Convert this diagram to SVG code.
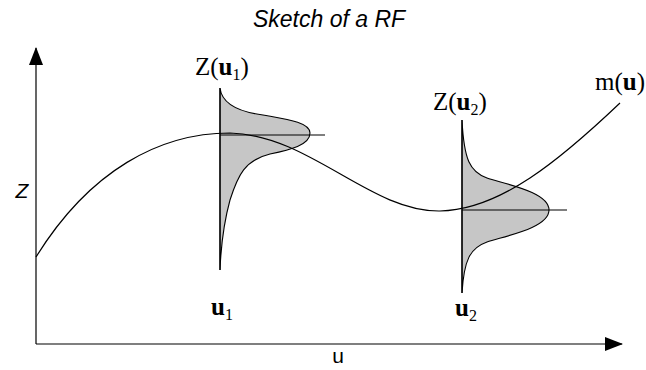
<svg xmlns="http://www.w3.org/2000/svg" width="646" height="370" viewBox="0 0 646 370">
<style>
.ln{fill:none;stroke:#000;stroke-width:1.2}
.pdf{fill:#c6c6c6;stroke:#000;stroke-width:1.1}
.serif{font-family:"Liberation Serif","Times New Roman",serif;font-size:25px;fill:#000}
.sans{font-family:"Liberation Sans",Arial,sans-serif;fill:#000}
.b{font-weight:bold}
.sub{font-size:16px}
</style>
<defs>
<marker id="ah" viewBox="0 0 18 14" refX="17" refY="7" markerWidth="18" markerHeight="14" markerUnits="userSpaceOnUse" orient="auto">
<path d="M0,0 L18,7 L0,14 Z" fill="#000"/>
</marker>
</defs>
<rect width="646" height="370" fill="#fff"/>
<text class="sans" x="329" y="27" font-size="23" font-style="italic" text-anchor="middle">Sketch of a RF</text>
<g id="axes">
<line class="ln" x1="36" y1="344" x2="36" y2="48" stroke-width="1.3" marker-end="url(#ah)"/>
<line class="ln" x1="36" y1="344" x2="622" y2="344" stroke-width="1.3" marker-end="url(#ah)"/>
<text class="sans" x="22" y="198" font-size="21" font-style="italic" text-anchor="middle">Z</text>
<text class="sans" x="338" y="363" font-size="21" text-anchor="middle">u</text>
</g>
<g id="dist1">
<path class="pdf" d="M220,88 C222,105 240,112 263,115 C285,119 310,122 310,133 C310,145 290,150 270,154 C245,160 238,175 230,200 C224,222 221,245 220,270 Z"/>
<line class="ln" x1="220" y1="88" x2="220" y2="270"/>
<line class="ln" x1="220" y1="135" x2="325" y2="135"/>
<text class="serif" x="195" y="75">Z(<tspan class="b">u</tspan><tspan class="sub" dy="5">1</tspan><tspan dy="-5">)</tspan></text>
<text class="serif" x="211" y="315"><tspan class="b">u</tspan><tspan class="sub" dy="5">1</tspan></text>
</g>
<g id="dist2">
<path class="pdf" d="M462,120 C464,160 470,172 487,178 C505,184 549,192 549,210 C549,228 505,236 487,242 C470,248 464,260 462,293 Z"/>
<line class="ln" x1="462" y1="120" x2="462" y2="293"/>
<line class="ln" x1="462" y1="210" x2="567" y2="210"/>
<text class="serif" x="433" y="110">Z(<tspan class="b">u</tspan><tspan class="sub" dy="5">2</tspan><tspan dy="-5">)</tspan></text>
<text class="serif" x="455" y="316"><tspan class="b">u</tspan><tspan class="sub" dy="5">2</tspan></text>
</g>
<g id="connectors">
<path id="mean" class="ln" d="M36,257 C90,170 160,133 230,133 C310,135 370,212 440,211 C500,210 560,160 620,103"/>
</g>
<g id="mlabel">
<text class="serif" x="595" y="90">m(<tspan class="b">u</tspan>)</text>
</g>
</svg>
